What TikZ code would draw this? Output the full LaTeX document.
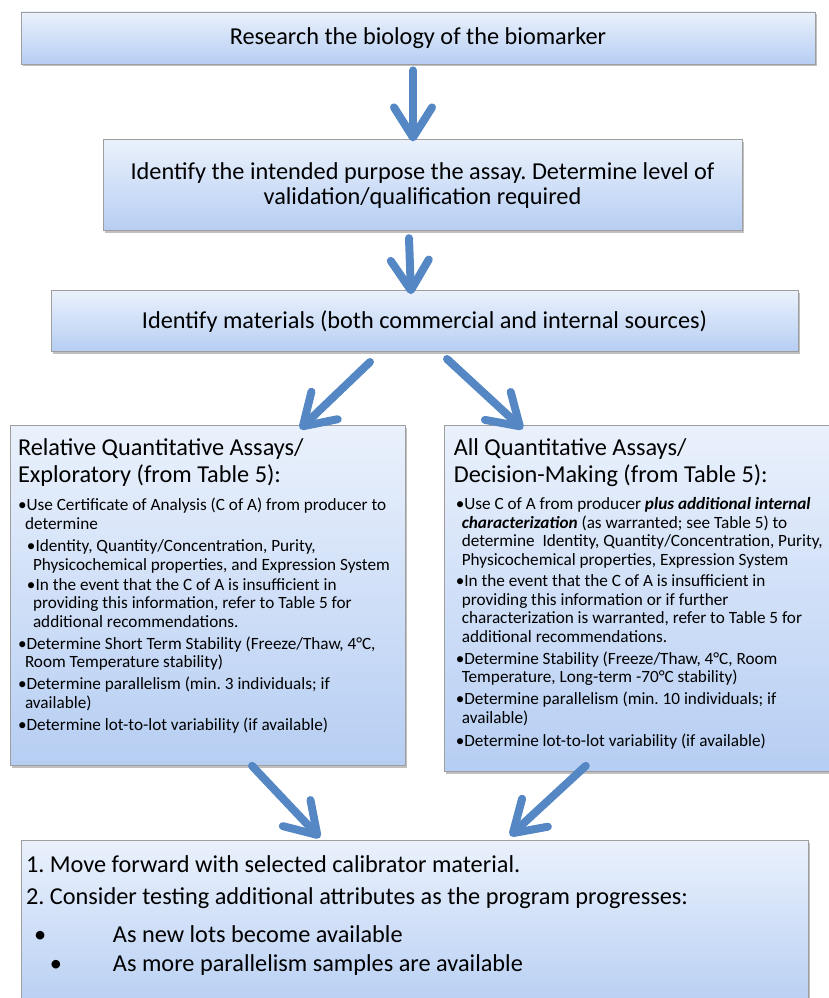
\documentclass[tikz,border=0pt]{standalone}
\usepackage{fontspec}
\setmainfont{Carlito}
\usetikzlibrary{arrows.meta,positioning,shadows}

\definecolor{boxtop}{RGB}{234,241,252}
\definecolor{boxbot}{RGB}{182,206,243}
\definecolor{boxline}{RGB}{158,158,158}
\definecolor{arrblue}{RGB}{84,135,196}

\newcommand{\headsize}{\fontsize{24.3}{27}\selectfont}
\newcommand{\bodysize}{\fontsize{17.2}{18.5}\selectfont}
\frenchspacing

\begin{document}
\begin{tikzpicture}[
  box/.style={draw=boxline, line width=0.8pt, top color=boxtop, bottom color=boxbot,
    inner sep=0pt, align=center,
    drop shadow={shadow xshift=1.5pt, shadow yshift=-2.5pt, opacity=0.45, fill=black!55}},
  stepbox/.style={box, font=\fontsize{24.3}{25}\selectfont},
  panel/.style={box, inner xsep=8pt, inner ysep=13.5pt},
  arr/.style={-{Straight Barb[length=30pt, width=38pt, round]}, line width=8pt, draw=arrblue, line cap=round}
]
\useasboundingbox (0,0) rectangle (828pt,-998pt);

% the three steps down the middle
\node[stepbox, minimum width=794pt, minimum height=52pt] (bio) at (418pt,-38pt) {Research the biology of the biomarker};
\node[stepbox, below=75pt of bio, xshift=4.5pt, minimum width=639pt, minimum height=91pt] (purpose)
  {Identify the intended purpose the assay. Determine level of\\ validation/qualification required};
\node[stepbox, below=59pt of purpose, xshift=2pt, minimum width=747pt, minimum height=61pt] (materials)
  {Identify materials (both commercial and internal sources)};

% the two kinds of assay
\node[panel, below=73pt of materials.south west, anchor=north west, xshift=-41pt] (relative) {\parbox[t][313pt][t]{379pt}{\raggedright
  \headsize Relative Quantitative Assays/\\ Exploratory (from Table 5):\par
  \vspace{9.5pt}\bodysize
  •Use Certificate of Analysis (C of A) from producer to\\
  \hspace*{7pt}determine\\[4pt]
  \hspace*{9pt}•Identity, Quantity/Concentration, Purity,\\
  \hspace*{15pt}Physicochemical properties, and Expression System\\[1.5pt]
  \hspace*{9pt}•In the event that the C of A is insufficient in\\
  \hspace*{15pt}providing this information, refer to Table 5 for\\
  \hspace*{15pt}additional recommendations.\\[3.5pt]
  •Determine Short Term Stability (Freeze/Thaw, 4°C,\\
  \hspace*{7pt}Room Temperature stability)\\[3.5pt]
  •Determine parallelism (min. 3 individuals; if\\
  \hspace*{7pt}available)\\[3.5pt]
  •Determine lot-to-lot variability (if available)}};

\node[panel, right=39pt of relative.north east, anchor=north west, inner xsep=9pt] (all) {\parbox[t][319pt][t]{382pt}{\raggedright
  \headsize All Quantitative Assays/\\ Decision-Making (from Table 5):\par
  \vspace{8.5pt}\bodysize
  \hspace*{2pt}•Use C of A from producer \textbf{\textit{plus additional internal}}\\
  \hspace*{8pt}\textbf{\textit{characterization}} (as warranted; see Table 5) to\\
  \hspace*{8pt}determine\ \ Identity, Quantity/Concentration, Purity,\\
  \hspace*{8pt}Physicochemical properties, Expression System\\[3pt]
  \hspace*{2pt}•In the event that the C of A is insufficient in\\
  \hspace*{8pt}providing this information or if further\\
  \hspace*{8pt}characterization is warranted, refer to Table 5 for\\
  \hspace*{8pt}additional recommendations.\\[3.5pt]
  \hspace*{2pt}•Determine Stability (Freeze/Thaw, 4°C, Room\\
  \hspace*{8pt}Temperature, Long-term -70°C stability)\\[3.5pt]
  \hspace*{2pt}•Determine parallelism (min. 10 individuals; if\\
  \hspace*{8pt}available)\\[4.5pt]
  \hspace*{2pt}•Determine lot-to-lot variability (if available)}};

% where both lead
\node[panel, below=74pt of relative.south west, anchor=north west, xshift=11pt, inner xsep=5pt, inner ysep=15pt] (forward)
  {\parbox[t][143pt][t]{777pt}{\raggedright\fontsize{24.3}{28}\selectfont
  1. Move forward with selected calibrator material.\\[4pt]
  2. Consider testing additional attributes as the program progresses:\\[10pt]
  \hspace*{8pt}\makebox[79pt][l]{•}As new lots become available\\[1pt]
  \hspace*{24pt}\makebox[63pt][l]{•}As more parallelism samples are available}};

\draw[arr] ([xshift=-5pt, yshift=-6pt]bio.south) -- ([xshift=-9.5pt, yshift=-2pt]purpose.north);
\draw[arr] ([xshift=-13.5pt, yshift=-7pt]purpose.south) -- ([xshift=-13.5pt, yshift=-4pt]materials.north);
\draw[arr] ([xshift=-54.5pt, yshift=-10pt]materials.south) -- ([xshift=92.5pt, yshift=-4pt]relative.north);
\draw[arr] ([xshift=22.5pt, yshift=-7pt]materials.south) -- ([xshift=-122pt, yshift=-4pt]all.north);
\draw[arr] ([xshift=44.5pt]relative.south) -- ([xshift=-94.5pt, yshift=2pt]forward.north);
\draw[arr] ([xshift=-59pt, yshift=6pt]all.south) -- ([xshift=95.5pt, yshift=4pt]forward.north);
\end{tikzpicture}
\end{document}
